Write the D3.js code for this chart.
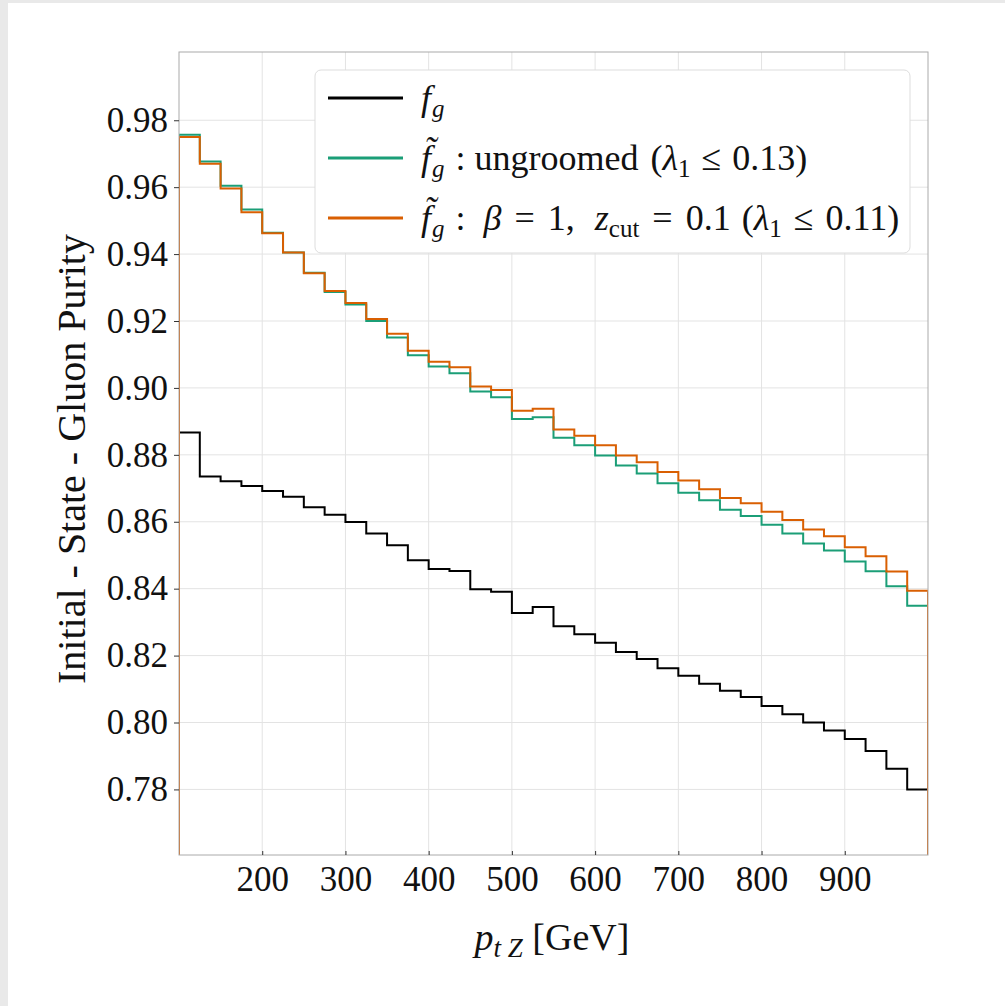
<!DOCTYPE html>
<html>
<head>
<meta charset="utf-8">
<script src="https://cdn.jsdelivr.net/npm/d3@7"></script>
<style>
  html, body { margin: 0; padding: 0; background: #e9e9e9; }
  svg { display: block; }
  text { font-family: "Liberation Serif", "DejaVu Serif", serif; fill: #111; }
</style>
</head>
<body>
<svg id="chart" width="1005" height="1006"></svg>
<script>
// ---- data ----
const binEdges = [100,125,150,175,200,225,250,275,300,325,350,375,400,425,450,475,500,525,550,575,600,625,650,675,700,725,750,775,800,825,850,875,900,925,950,975,1000];

const fgValues = [0.8867,0.8735,0.8721,0.8707,0.8692,0.8675,0.8643,0.8621,0.8599,0.8565,0.8530,0.8485,0.8459,0.8453,0.8398,0.8391,0.8327,0.8345,0.8288,0.8264,0.8238,0.8211,0.8190,0.8162,0.8140,0.8116,0.8095,0.8076,0.8049,0.8025,0.8000,0.7976,0.7951,0.7915,0.7862,0.7800];

const ungroomedValues = [0.9757,0.9677,0.9604,0.9533,0.9464,0.9405,0.9344,0.9287,0.9249,0.9200,0.9151,0.9098,0.9064,0.9044,0.8989,0.8972,0.8907,0.8912,0.8851,0.8829,0.8798,0.8768,0.8744,0.8715,0.8687,0.8664,0.8636,0.8617,0.8591,0.8565,0.8535,0.8514,0.8481,0.8452,0.8407,0.8349];

const groomedValues = [0.9750,0.9670,0.9596,0.9525,0.9462,0.9405,0.9343,0.9290,0.9254,0.9206,0.9162,0.9111,0.9078,0.9062,0.9004,0.8994,0.8932,0.8938,0.8876,0.8857,0.8829,0.8798,0.8778,0.8749,0.8723,0.8697,0.8671,0.8655,0.8630,0.8605,0.8577,0.8557,0.8524,0.8497,0.8451,0.8394];

const xTicks = [200,300,400,500,600,700,800,900];
const yTicks = [0.78,0.80,0.82,0.84,0.86,0.88,0.90,0.92,0.94,0.96,0.98];
const yTickLabels = ["0.78","0.80","0.82","0.84","0.86","0.88","0.90","0.92","0.94","0.96","0.98"];

const seriesColors = ["#000000","#1b9e77","#d95f02"];

// ---- layout ----
const svg = d3.select("#chart");
svg.append("rect").attr("x",8).attr("y",3).attr("width",997).attr("height",1003).attr("fill","#ffffff");

const L = 179, R = 928, T = 52, B = 855;
const x = d3.scaleLinear().domain([100,1000]).range([L,R]);
const y = d3.scaleLinear().domain([0.7604,1.0004]).range([B,T]);

// grid
const grid = svg.append("g");
grid.selectAll("line.gx").data(xTicks).join("line")
  .attr("x1",d=>x(d)).attr("x2",d=>x(d)).attr("y1",T).attr("y2",B)
  .attr("stroke","#e3e3e3").attr("stroke-width",1);
grid.selectAll("line.gy").data(yTicks).join("line")
  .attr("x1",L).attr("x2",R).attr("y1",d=>y(d)).attr("y2",d=>y(d))
  .attr("stroke","#e3e3e3").attr("stroke-width",1);

// clip
svg.append("clipPath").attr("id","plotclip").append("rect")
  .attr("x",L).attr("y",T).attr("width",R-L).attr("height",B-T);

function stepPath(vals){
  const p = d3.path();
  const y0 = y.range()[0] + 20;
  p.moveTo(x(binEdges[0]), y0);
  vals.forEach((v,i)=>{
    p.lineTo(x(binEdges[i]), y(v));
    p.lineTo(x(binEdges[i+1]), y(v));
  });
  p.lineTo(x(binEdges[binEdges.length-1]), y0);
  return p.toString();
}

const plot = svg.append("g").attr("clip-path","url(#plotclip)");
[fgValues, ungroomedValues, groomedValues].forEach((vals,i)=>{
  plot.append("path").attr("d",stepPath(vals))
    .attr("fill","none").attr("stroke",seriesColors[i])
    .attr("stroke-width",2).attr("stroke-linejoin","miter");
});

// spines
svg.append("rect").attr("x",L).attr("y",T).attr("width",R-L).attr("height",B-T)
  .attr("fill","none").attr("stroke","#aaaaaa").attr("stroke-width",1);

// ticks
const xAxis = d3.axisBottom(x).tickValues(xTicks).tickSizeInner(-4).tickSizeOuter(0).tickPadding(11).tickFormat(d3.format("d"));
const gx = svg.append("g").attr("transform",`translate(0,${B})`).call(xAxis);
gx.select(".domain").remove();
gx.selectAll(".tick line").attr("stroke","#333").attr("stroke-width",1);
gx.selectAll(".tick text").attr("font-size",35).attr("font-family","Liberation Serif").attr("fill","#111");

const yAxis = d3.axisLeft(y).tickValues(yTicks).tickSizeInner(5).tickSizeOuter(0).tickPadding(6)
  .tickFormat((d,i)=>yTickLabels[i]);
const gy = svg.append("g").attr("transform",`translate(${L},0)`).call(yAxis);
gy.select(".domain").remove();
gy.selectAll(".tick line").attr("stroke","#333").attr("stroke-width",1);
gy.selectAll(".tick text").attr("font-size",35).attr("font-family","Liberation Serif").attr("fill","#111");

// axis labels
svg.append("text").attr("transform","translate(85,459) rotate(-90)")
  .attr("text-anchor","middle").attr("font-size",40)
  .text("Initial - State - Gluon Purity");

const xl = svg.append("text").attr("x",552).attr("y",950).attr("text-anchor","middle").attr("font-size",38);
xl.append("tspan").attr("font-style","italic").text("p");
xl.append("tspan").attr("font-style","italic").attr("font-size",27).attr("dy",7).text("t Z");
xl.append("tspan").attr("dy",-7).text(" [GeV]");

// legend
const lg = svg.append("g");
lg.append("rect").attr("x",315).attr("y",70).attr("width",595).attr("height",183).attr("rx",6)
  .attr("fill","#ffffff").attr("stroke","#dddddd").attr("stroke-width",1);

const legendY = [98,158,218];
legendY.forEach((ly,i)=>{
  lg.append("line").attr("x1",328).attr("x2",403).attr("y1",ly).attr("y2",ly)
    .attr("stroke",seriesColors[i]).attr("stroke-width",3);
});

function addLabel(yb, segs){
  const t = lg.append("text").attr("x",421).attr("y",yb).attr("font-size",36);
  segs.forEach(s=>{
    const ts = t.append("tspan").text(s.t);
    if(s.it) ts.attr("font-style","italic");
    if(s.sz) ts.attr("font-size",s.sz);
    if(s.dy) ts.attr("dy",s.dy);
    if(s.dx) ts.attr("dx",s.dx);
  });
}
addLabel(110,[{t:"f",it:true},{t:"g",it:true,sz:25,dy:7,dx:1}]);
addLabel(170,[{t:"f\u0303",it:true},{t:"g",it:true,sz:25,dy:7,dx:1},{t:" : ungroomed",dy:-7,dx:2},{t:"(",dx:12},{t:"λ",it:true},{t:"1",sz:25,dy:7},{t:"≤",dy:-7,dx:11},{t:"0.13)",dx:11}]);
addLabel(230,[{t:"f\u0303",it:true},{t:"g",it:true,sz:25,dy:7,dx:1},{t:" :",dy:-7,dx:2},{t:"β",it:true,dx:18},{t:"=",dx:13},{t:"1,",dx:13},{t:"z",it:true,dx:20},{t:"cut",sz:25,dy:7},{t:"=",dy:-7,dx:13},{t:"0.1",dx:13},{t:"(",dx:11},{t:"λ",it:true},{t:"1",sz:25,dy:7},{t:"≤",dy:-7,dx:12},{t:"0.11)",dx:12}]);
</script>
</body>
</html>
